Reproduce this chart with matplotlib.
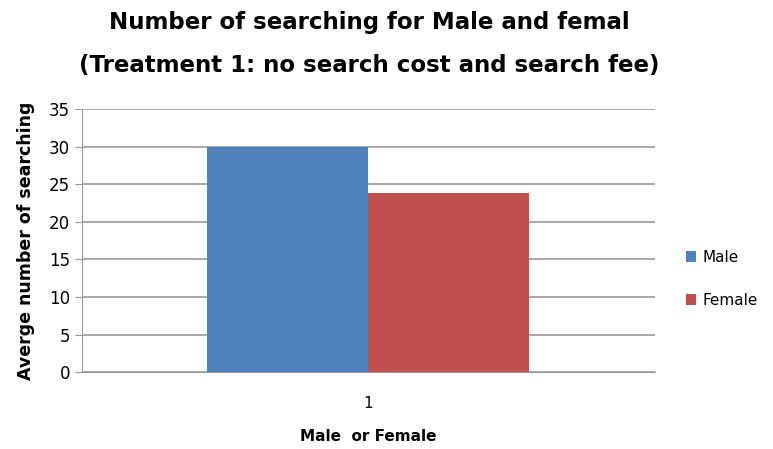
import matplotlib.pyplot as plt

categories = ["1"]
series_names = ["Male", "Female"]
male_values = [30.0]
female_values = [23.8]
colors = ["#4f81bd", "#c0504d"]

fig = plt.figure(figsize=(7.73, 4.49), dpi=100)
ax = fig.add_axes([0.106, 0.171, 0.741, 0.586])

width = 0.281
x = [1]
ax.bar([v - width / 2 for v in x], male_values, width, color=colors[0], label=series_names[0], zorder=3)
ax.bar([v + width / 2 for v in x], female_values, width, color=colors[1], label=series_names[1], zorder=3)

ax.set_xlim(0.5, 1.5)
ax.set_ylim(0, 35)
ax.set_yticks(range(0, 36, 5))
ax.set_xticks(x)
ax.set_xticklabels(categories)
ax.grid(axis="y", color="#999999", linewidth=1.2, zorder=0)
for s in ["top", "right"]:
	ax.spines[s].set_visible(False)
ax.spines["left"].set_color("#999999")
ax.spines["bottom"].set_color("#999999")
ax.tick_params(axis="y", colors="#999999", labelcolor="black", labelsize=12, length=5)
ax.tick_params(axis="x", length=0, labelsize=11, pad=17)

ax.set_ylabel("Averge number of searching", fontsize=12.5, fontweight="bold", labelpad=10)
ax.set_xlabel("Male  or Female", fontsize=11, fontweight="bold", labelpad=13)

fig.text(0.478, 0.95, "Number of searching for Male and femal", ha="center", va="center",
	fontsize=16.5, fontweight="bold")
fig.text(0.478, 0.855, "(Treatment 1: no search cost and search fee)", ha="center", va="center",
	fontsize=16.5, fontweight="bold")

ax.legend(loc="center left", bbox_to_anchor=(1.03, 0.355), frameon=False, fontsize=11,
	handlelength=0.7, handleheight=0.7, labelspacing=1.8, handletextpad=0.4)

plt.savefig("out.png")
